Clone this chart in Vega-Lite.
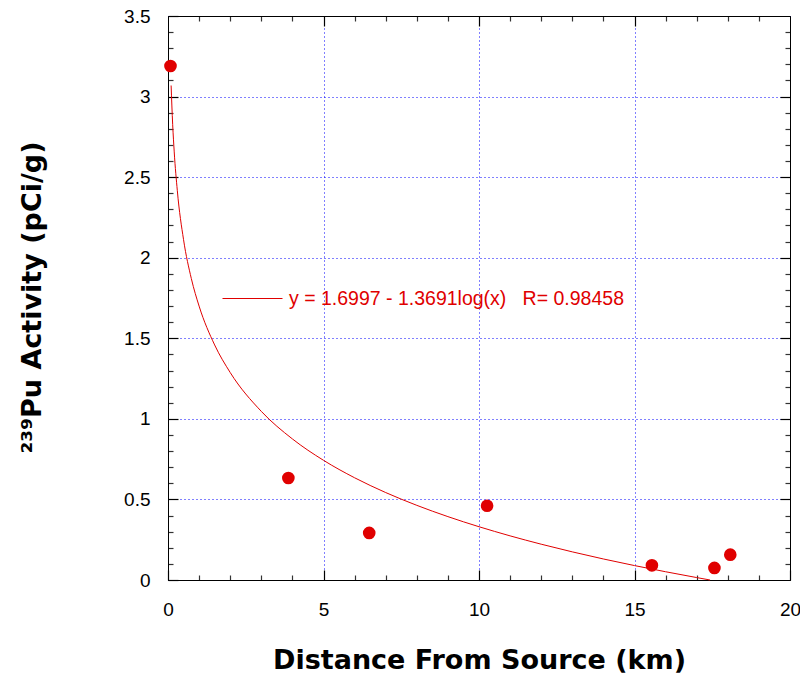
{
  "$schema": "https://vega.github.io/schema/vega-lite/v6.json",
  "width": 622,
  "height": 564,
  "autosize": {"type": "none"},
  "padding": {"left": 168, "top": 16, "right": 10, "bottom": 94},
  "config": {
    "font": "Liberation Sans",
    "view": {"stroke": "black", "strokeWidth": 1},
    "axis": {"labelFont": "Liberation Sans", "titleFont": "DejaVu Sans", "labelColor": "black", "titleColor": "black", "domainColor": "black", "tickColor": "black", "tickWidth": 1.2}
  },
  "resolve": {"axis": {"x": "independent", "y": "independent"}},
  "datasets": {
    "pts": [
      {"d": 0.08, "a": 3.19},
      {"d": 3.87, "a": 0.633},
      {"d": 6.47, "a": 0.292},
      {"d": 10.26, "a": 0.461},
      {"d": 15.56, "a": 0.091},
      {"d": 17.57, "a": 0.075},
      {"d": 18.08, "a": 0.157}
    ],
    "fit": [
      {"d": 0.1, "a": 3.0688, "s": "y = 1.6997 - 1.3691log(x)\u00a0\u00a0\u00a0R= 0.98458"},
      {"d": 0.15, "a": 2.8277, "s": "y = 1.6997 - 1.3691log(x)\u00a0\u00a0\u00a0R= 0.98458"},
      {"d": 0.2, "a": 2.6567, "s": "y = 1.6997 - 1.3691log(x)\u00a0\u00a0\u00a0R= 0.98458"},
      {"d": 0.3, "a": 2.4156, "s": "y = 1.6997 - 1.3691log(x)\u00a0\u00a0\u00a0R= 0.98458"},
      {"d": 0.5, "a": 2.1118, "s": "y = 1.6997 - 1.3691log(x)\u00a0\u00a0\u00a0R= 0.98458"},
      {"d": 0.75, "a": 1.8707, "s": "y = 1.6997 - 1.3691log(x)\u00a0\u00a0\u00a0R= 0.98458"},
      {"d": 1, "a": 1.6997, "s": "y = 1.6997 - 1.3691log(x)\u00a0\u00a0\u00a0R= 0.98458"},
      {"d": 1.5, "a": 1.4586, "s": "y = 1.6997 - 1.3691log(x)\u00a0\u00a0\u00a0R= 0.98458"},
      {"d": 2, "a": 1.2876, "s": "y = 1.6997 - 1.3691log(x)\u00a0\u00a0\u00a0R= 0.98458"},
      {"d": 3, "a": 1.0465, "s": "y = 1.6997 - 1.3691log(x)\u00a0\u00a0\u00a0R= 0.98458"},
      {"d": 4, "a": 0.8754, "s": "y = 1.6997 - 1.3691log(x)\u00a0\u00a0\u00a0R= 0.98458"},
      {"d": 5, "a": 0.7428, "s": "y = 1.6997 - 1.3691log(x)\u00a0\u00a0\u00a0R= 0.98458"},
      {"d": 6, "a": 0.6344, "s": "y = 1.6997 - 1.3691log(x)\u00a0\u00a0\u00a0R= 0.98458"},
      {"d": 7, "a": 0.5427, "s": "y = 1.6997 - 1.3691log(x)\u00a0\u00a0\u00a0R= 0.98458"},
      {"d": 8, "a": 0.4633, "s": "y = 1.6997 - 1.3691log(x)\u00a0\u00a0\u00a0R= 0.98458"},
      {"d": 9, "a": 0.3933, "s": "y = 1.6997 - 1.3691log(x)\u00a0\u00a0\u00a0R= 0.98458"},
      {"d": 10, "a": 0.3306, "s": "y = 1.6997 - 1.3691log(x)\u00a0\u00a0\u00a0R= 0.98458"},
      {"d": 11, "a": 0.2739, "s": "y = 1.6997 - 1.3691log(x)\u00a0\u00a0\u00a0R= 0.98458"},
      {"d": 12, "a": 0.2222, "s": "y = 1.6997 - 1.3691log(x)\u00a0\u00a0\u00a0R= 0.98458"},
      {"d": 13, "a": 0.1746, "s": "y = 1.6997 - 1.3691log(x)\u00a0\u00a0\u00a0R= 0.98458"},
      {"d": 14, "a": 0.1305, "s": "y = 1.6997 - 1.3691log(x)\u00a0\u00a0\u00a0R= 0.98458"},
      {"d": 15, "a": 0.0895, "s": "y = 1.6997 - 1.3691log(x)\u00a0\u00a0\u00a0R= 0.98458"},
      {"d": 16, "a": 0.0512, "s": "y = 1.6997 - 1.3691log(x)\u00a0\u00a0\u00a0R= 0.98458"},
      {"d": 17, "a": 0.0151, "s": "y = 1.6997 - 1.3691log(x)\u00a0\u00a0\u00a0R= 0.98458"},
      {"d": 17.43, "a": 0.0, "s": "y = 1.6997 - 1.3691log(x)\u00a0\u00a0\u00a0R= 0.98458"}
    ]
  },
  "layer": [
    {
      "data": {"name": "pts"},
      "mark": {"type": "point", "opacity": 0},
      "encoding": {
        "x": {"field": "d", "type": "quantitative", "scale": {"domain": [0, 20], "nice": false, "zero": false},
          "axis": {"orient": "top", "values": [1,2,3,4,6,7,8,9,11,12,13,14,16,17,18,19], "labels": false, "domain": false, "grid": false, "ticks": true, "tickSize": -5, "tickColor": "#333333", "title": null}},
        "y": {"field": "a", "type": "quantitative", "scale": {"domain": [0, 3.5], "nice": false, "zero": false},
          "axis": {"orient": "right", "values": [0.1,0.2,0.3,0.4,0.6,0.7,0.8,0.9,1.1,1.2,1.3,1.4,1.6,1.7,1.8,1.9,2.1,2.2,2.3,2.4,2.6,2.7,2.8,2.9,3.1,3.2,3.3,3.4], "labels": false, "domain": false, "grid": false, "ticks": true, "tickSize": -5, "tickColor": "#333333", "title": null}}
      }
    },
    {
      "data": {"name": "pts"},
      "mark": {"type": "point", "opacity": 0},
      "encoding": {
        "x": {"field": "d", "type": "quantitative",
          "axis": {"orient": "top", "values": [5, 10, 15], "labels": false, "domain": true, "grid": false, "ticks": true, "tickSize": -10, "title": null}},
        "y": {"field": "a", "type": "quantitative",
          "axis": {"orient": "right", "values": [0.5, 1, 1.5, 2, 2.5, 3], "labels": false, "domain": true, "grid": false, "ticks": true, "tickSize": -10, "title": null}}
      }
    },
    {
      "data": {"name": "pts"},
      "mark": {"type": "point", "opacity": 0},
      "encoding": {
        "x": {"field": "d", "type": "quantitative",
          "axis": {"orient": "bottom", "values": [1,2,3,4,6,7,8,9,11,12,13,14,16,17,18,19], "labels": false, "domain": false, "grid": false, "ticks": true, "tickSize": -5, "tickColor": "#333333", "title": null}},
        "y": {"field": "a", "type": "quantitative",
          "axis": {"orient": "left", "values": [0.1,0.2,0.3,0.4,0.6,0.7,0.8,0.9,1.1,1.2,1.3,1.4,1.6,1.7,1.8,1.9,2.1,2.2,2.3,2.4,2.6,2.7,2.8,2.9,3.1,3.2,3.3,3.4], "labels": false, "domain": false, "grid": false, "ticks": true, "tickSize": -5, "tickColor": "#333333", "title": null}}
      }
    },
    {
      "data": {"name": "fit"},
      "mark": {"type": "line", "strokeWidth": 1, "interpolate": "monotone"},
      "encoding": {
        "x": {"field": "d", "type": "quantitative",
          "axis": {"orient": "bottom", "values": [0, 5, 10, 15, 20], "format": "~g", "grid": true, "gridColor": "#0000ff", "gridDash": [1, 3], "gridWidth": 1, "gridOpacity": 1,
            "ticks": true, "tickSize": -10, "labelFontSize": 19, "labelPadding": 30, "labelFlush": false,
            "title": "Distance From Source (km)", "titleFontSize": 27, "titleFontWeight": "bold", "titleY": 88, "titleBaseline": "alphabetic"}},
        "y": {"field": "a", "type": "quantitative",
          "axis": {"orient": "left", "values": [0, 0.5, 1, 1.5, 2, 2.5, 3, 3.5], "format": "~g", "grid": true, "gridColor": "#0000ff", "gridDash": [1, 3], "gridWidth": 1, "gridOpacity": 1,
            "ticks": true, "tickSize": -10, "labelFontSize": 19, "labelPadding": 28, "labelFlush": false,
            "title": "²³⁹Pu Activity (pCi/g)", "titleFontSize": 27, "titleFontWeight": "bold", "titleX": -128, "titleY": 281, "titleBaseline": "alphabetic", "titleAngle": -90}},
        "color": {"field": "s", "type": "nominal", "scale": {"range": ["#e00000"]},
          "legend": {"orient": "none", "legendX": 54, "legendY": 252, "title": null, "symbolType": "stroke", "symbolSize": 3600, "symbolStrokeWidth": 1, "labelFontSize": 19.5, "labelColor": "#e00000", "labelLimit": 0, "labelOffset": 6, "padding": 0}}
      }
    },
    {
      "data": {"name": "pts"},
      "mark": {"type": "circle", "size": 160, "color": "#e00000", "opacity": 1},
      "encoding": {
        "x": {"field": "d", "type": "quantitative", "axis": null},
        "y": {"field": "a", "type": "quantitative", "axis": null}
      }
    }
  ]
}
